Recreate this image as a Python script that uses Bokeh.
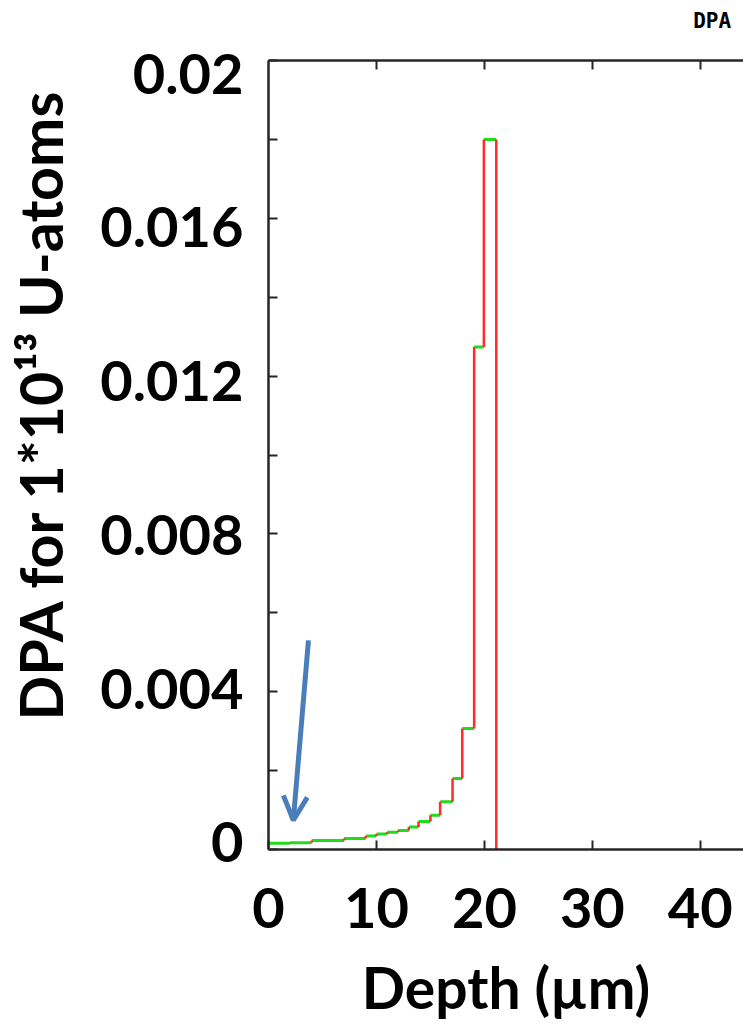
import math

from bokeh.plotting import figure
from bokeh.layouts import row
from bokeh.models import Range1d, LinearAxis, FixedTicker, Arrow, OpenHead
from bokeh.core.properties import value
from bokeh.embed import file_html
from bokeh.resources import INLINE

# Damage profile: depth bin edges (µm) and DPA per bin for 1*10^13 U atoms
bin_edges = [0.0, 2.0, 4.0, 7.0, 9.0, 10.0, 11.0, 12.0, 13.0, 13.9, 15.0,
             15.9, 17.05, 17.95, 19.05, 19.95, 21.1]
dpa_values = [0.00016, 0.00017, 0.00023, 0.00028, 0.00034, 0.00039, 0.00044,
              0.00048, 0.00057, 0.00071, 0.00087, 0.00121, 0.0018, 0.00307,
              0.01274, 0.0180]

x_tick_values = [0, 10, 20, 30, 40]
x_tick_labels = ["0", "10", "20", "30", "40"]
y_tick_values = [0, 0.004, 0.008, 0.012, 0.016, 0.02]
y_tick_labels = ["0", "0.004", "0.008", "0.012", "0.016", "0.02"]

y_title = "DPA for 1*10\u00b9\u00b3 U-atoms"
x_title = "Depth (\u00b5m)"
plot_tag = "DPA"

# Arrow pointing at the near-surface region (depth µm, DPA)
arrow_tail = (3.7, 0.0053)
arrow_tip = (2.3, 0.00074)

W, H = 743, 1024
TITLE_W = 80            # strip holding the vertical axis title
FRAME_LEFT, FRAME_TOP, FRAME_BOTTOM = 268, 60, 849
TAG_X = 41.1            # depth at which the plot tag is centred
FONT = "Lato"
RED = "#ff2b2b"
GREEN = "#1fdc1f"
AXIS = "#262626"
BLUE = "#4a7ebb"

# ---- vertical axis title strip; its frame lines up with the main frame,
# so the y range is chosen to read in page pixels (counted from the bottom)
tfig = figure(width=TITLE_W, height=H, x_range=Range1d(0, TITLE_W),
              y_range=Range1d(H - FRAME_BOTTOM, H - FRAME_TOP),
              output_backend="svg", toolbar_location=None,
              x_axis_location=None, y_axis_location=None, min_border=0,
              min_border_top=FRAME_TOP, min_border_bottom=H - FRAME_BOTTOM)
tfig.outline_line_color = None
tfig.grid.visible = False
tfig.text(x=[40], y=[H - 404], text=[y_title], angle=math.pi / 2,
          text_font=value(FONT), text_font_style="bold", text_font_size="59px",
          text_align="center", text_baseline="middle", text_color="black")

# ---- main plot ----
p = figure(width=W - TITLE_W, height=H, x_range=Range1d(0, 44.0), y_range=Range1d(0, 0.02),
           output_backend="svg", toolbar_location=None,
           x_axis_location=None, y_axis_location=None,
           min_border_left=FRAME_LEFT - TITLE_W, min_border_right=0,
           min_border_top=FRAME_TOP, min_border_bottom=H - FRAME_BOTTOM)
p.outline_line_color = None
p.background_fill_color = "white"
p.border_fill_color = "white"
p.grid.visible = False
# the tick labels of the value axis sit on a slightly stretched scale
p.extra_y_ranges = {"labels": Range1d(-0.00019, 0.020346)}


def style_ticks(ax, show=True):
    ax.axis_line_color = AXIS if show else None
    ax.axis_line_width = 2.5
    ax.major_tick_line_color = AXIS if show else None
    ax.major_tick_line_width = 2
    ax.major_tick_in = 9
    ax.major_tick_out = 0
    ax.minor_tick_line_color = AXIS if show else None
    ax.minor_tick_line_width = 2
    ax.minor_tick_in = 9
    ax.minor_tick_out = 0


def style_labels(ax, size="56px", font=FONT):
    ax.major_label_text_font = font
    ax.major_label_text_font_style = "bold"
    ax.major_label_text_font_size = size
    ax.major_label_text_color = "black"


def hide_labels(ax, ticks):
    ax.major_label_overrides = {t: "" for t in ticks}
    ax.major_label_text_font_size = "0px"
    ax.major_label_standoff = 0


# Left: tick marks on the frame, labels further out
y_minor = [(a + b) / 2 for a, b in zip(y_tick_values[:-1], y_tick_values[1:])]
y_ticks_axis = LinearAxis(ticker=FixedTicker(ticks=y_tick_values, minor_ticks=y_minor))
style_ticks(y_ticks_axis)
hide_labels(y_ticks_axis, y_tick_values)
p.add_layout(y_ticks_axis, "left")

y_label_axis = LinearAxis(y_range_name="labels", ticker=FixedTicker(ticks=y_tick_values),
                          major_label_overrides=dict(zip(y_tick_values, y_tick_labels)))
style_ticks(y_label_axis, show=False)
style_labels(y_label_axis)
y_label_axis.major_label_standoff = 25
p.add_layout(y_label_axis, "left")

# Bottom: ticks and labels together, plus the axis title
x_axis = LinearAxis(ticker=FixedTicker(ticks=x_tick_values),
                    major_label_overrides=dict(zip(x_tick_values, x_tick_labels)))
style_ticks(x_axis)
style_labels(x_axis)
x_axis.major_label_standoff = 38
x_axis.axis_label = x_title
x_axis.axis_label_text_font = FONT
x_axis.axis_label_text_font_style = "bold"
x_axis.axis_label_text_font_size = "57px"
x_axis.axis_label_text_color = "black"
x_axis.axis_label_standoff = 22
p.add_layout(x_axis, "below")

# Top: tick marks on the frame, and the small plot tag further up
top_axis = LinearAxis(ticker=FixedTicker(ticks=x_tick_values[1:]))
style_ticks(top_axis)
hide_labels(top_axis, x_tick_values[1:])
p.add_layout(top_axis, "above")

tag_axis = LinearAxis(ticker=FixedTicker(ticks=[TAG_X]),
                      major_label_overrides={TAG_X: plot_tag})
style_ticks(tag_axis, show=False)
style_labels(tag_axis, size="21px", font="DejaVu Sans Mono")
tag_axis.major_label_standoff = 28
p.add_layout(tag_axis, "above")

# Histogram: green bin tops, red risers between neighbouring bins
next_values = dpa_values[1:] + [0.0]
p.segment(x0=bin_edges[:-1], y0=dpa_values, x1=bin_edges[1:], y1=dpa_values,
          line_color=GREEN, line_width=3)
p.segment(x0=bin_edges[1:], y0=dpa_values, x1=bin_edges[1:], y1=next_values,
          line_color=RED, line_width=2.5)

# Blue pointer arrow
p.add_layout(Arrow(end=OpenHead(line_color=BLUE, line_width=5, size=24),
                   x_start=arrow_tail[0], y_start=arrow_tail[1],
                   x_end=arrow_tip[0], y_end=arrow_tip[1],
                   line_color=BLUE, line_width=5))

layout = row(tfig, p, spacing=0)
open("out.html", "w").write(file_html(layout, INLINE))
